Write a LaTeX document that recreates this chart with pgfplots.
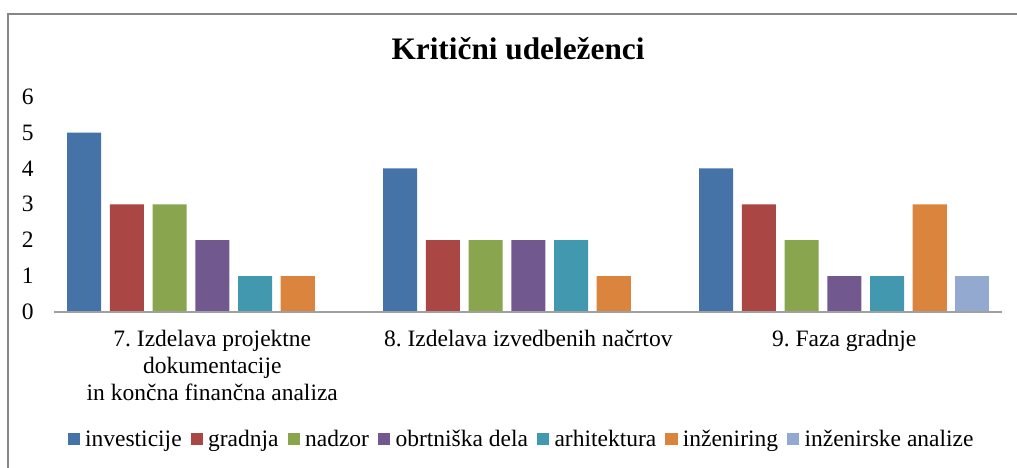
\documentclass[border=0pt]{standalone}
\usepackage{fontspec}
\setmainfont{Liberation Serif}
\usepackage{pgfplots}
\pgfplotsset{compat=1.18}
\definecolor{cA}{HTML}{4572A7}
\definecolor{cB}{HTML}{AA4643}
\definecolor{cC}{HTML}{89A54E}
\definecolor{cD}{HTML}{71588F}
\definecolor{cE}{HTML}{4198AF}
\definecolor{cF}{HTML}{DB843D}
\definecolor{cG}{HTML}{93A9CF}
\definecolor{frame}{HTML}{868686}
\definecolor{axgray}{HTML}{A0A0A0}
\newcommand{\lbl}{\fontsize{23.5}{27.2}\selectfont}
\frenchspacing
\begin{document}
\frenchspacing
\begin{tikzpicture}
\useasboundingbox (0,0) rectangle (1017pt,467pt);
\fill[white] (0,0) rectangle (1017pt,467pt);
\draw[frame, line width=2pt] (8pt,-5pt) -- (8pt,453pt) -- (1025pt,453pt);
\node[anchor=base, font=\bfseries\fontsize{31.3}{36}\selectfont, inner sep=0pt] at (518pt,407.7pt) {Kritični udeleženci};
\begin{axis}[
  at={(54.3pt,155pt)}, anchor=south west,
  scale only axis, width=948pt, height=215.4pt,
  xmin=-0.5, xmax=2.5, ymin=0, ymax=6,
  ytick={0,...,6}, xtick={0,1,2},
  xticklabels={{7. Izdelava projektne\\dokumentacije\\in končna finančna analiza},{8. Izdelava izvedbenih načrtov},{9. Faza gradnje}},
  major tick length=0pt,
  axis line style={draw=none},
  ybar, bar width=0.1077,
  clip=false,
  /pgf/number format/assume math mode=true,
  tick label style={font=\lbl\frenchspacing, inner sep=0pt},
  yticklabel style={anchor=east, xshift=-20.5pt},
  xticklabel style={align=center, anchor=north, yshift=-18pt},
  legend columns=-1,
  legend style={draw=none, fill=none, inner sep=0pt, outer sep=0pt,
    at={(axis description cs:0.014,-0.59)}, anchor=west, font=\lbl,
    nodes={inner sep=0pt},
    /tikz/every even column/.append style={column sep=9pt}},
  legend image code/.code={\fill[#1,draw=none] (0pt,-6pt) rectangle (12.4pt,6pt); \path (17.5pt,0pt);},
]
\addplot[fill=cA, draw=none, bar shift=-0.4056] coordinates {(0,5) (1,4) (2,4)};
\addplot[fill=cB, draw=none, bar shift=-0.2704] coordinates {(0,3) (1,2) (2,3)};
\addplot[fill=cC, draw=none, bar shift=-0.1352] coordinates {(0,3) (1,2) (2,2)};
\addplot[fill=cD, draw=none, bar shift=0] coordinates {(0,2) (1,2) (2,1)};
\addplot[fill=cE, draw=none, bar shift=0.1352] coordinates {(0,1) (1,2) (2,1)};
\addplot[fill=cF, draw=none, bar shift=0.2704] coordinates {(0,1) (1,1) (2,3)};
\addplot[fill=cG, draw=none, bar shift=0.4056] coordinates {(2,1)};
\legend{investicije, gradnja, nadzor, obrtniška dela, arhitektura, inženiring, inženirske analize}
\draw[axgray, line width=1.3pt] (axis cs:-0.5,0) -- (axis cs:2.5,0);
\end{axis}
\end{tikzpicture}
\end{document}
